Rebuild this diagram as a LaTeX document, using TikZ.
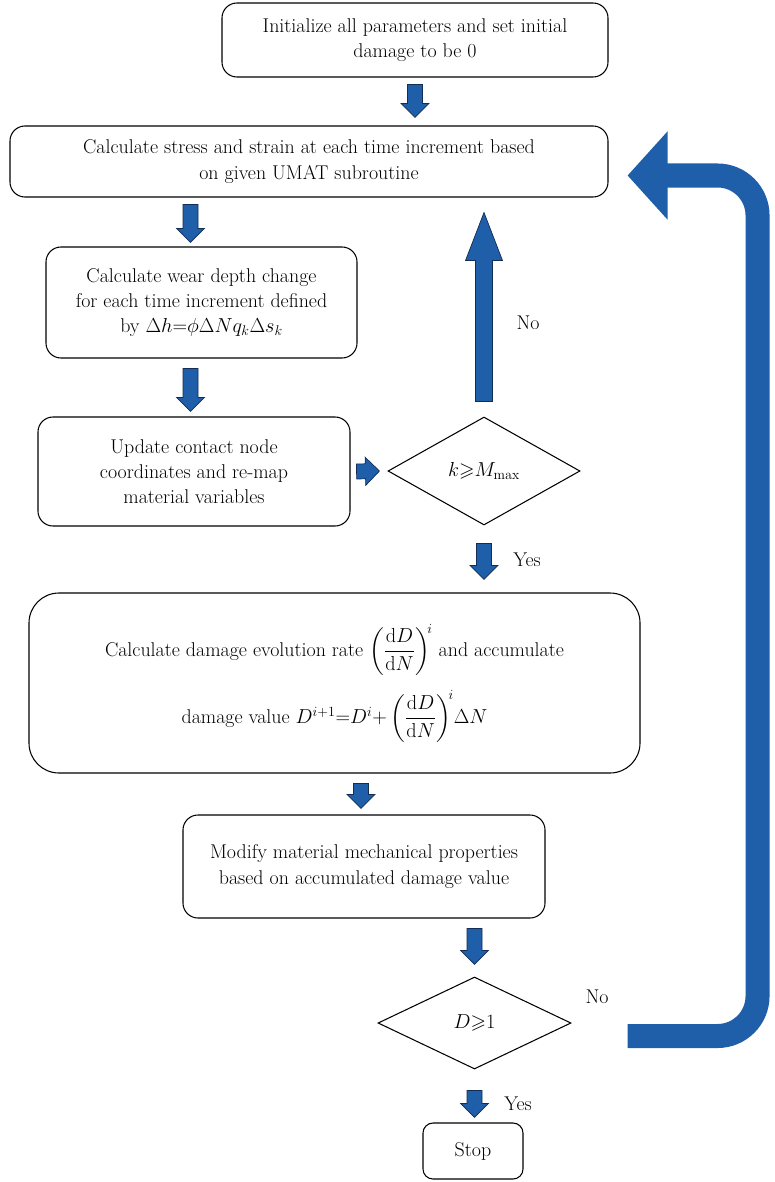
\documentclass[tikz,border=0pt]{standalone}
\usepackage{amsmath,amssymb}
\usepackage{tikz}
\usetikzlibrary{arrows.meta, calc, shapes.geometric, positioning}

\definecolor{flowblue}{RGB}{31,94,168}
\definecolor{edgeblue}{RGB}{20,45,85}

\tikzset{
  box/.style={draw, line width=0.9pt, rounded corners=0.45cm, align=center, inner sep=0pt},
  decision/.style={diamond, draw, line width=0.9pt, inner sep=0pt, align=center},
  arrowsize/.style n args={3}{/utils/exec={\def\shaftw{#1}\def\headw{#2}\def\headlen{#3}}},
  blockarrow/.style={draw=edgeblue, fill=flowblue, line width=0.6pt, to path={
      let \p1=(\tikztostart), \p2=(\tikztotarget),
          \n1={atan2(\y2-\y1,\x2-\x1)}, \n2={veclen(\x2-\x1,\y2-\y1)-\headlen} in
      ($(\p1)+(\n1+90:\shaftw)$) -- ($(\p1)+(\n1:\n2)+(\n1+90:\shaftw)$)
      -- ($(\p1)+(\n1:\n2)+(\n1+90:\headw)$) -- (\p2)
      -- ($(\p1)+(\n1:\n2)+(\n1-90:\headw)$) -- ($(\p1)+(\n1:\n2)+(\n1-90:\shaftw)$)
      -- ($(\p1)+(\n1-90:\shaftw)$) -- cycle}},
  smallarrow/.style={blockarrow, arrowsize={6.4pt}{12pt}{12pt}},
  bigarrow/.style={blockarrow, arrowsize={7.3pt}{15.8pt}{41pt}},
  curvearrow/.style={draw=flowblue, line width=0.72cm, rounded corners=1.2cm,
      -{Triangle[width=2.58cm, length=1.2cm]}},
}

\begin{document}
\begin{tikzpicture}[x=0.03cm, y=-0.03cm, font=\fontsize{17}{21.5}\selectfont]
\useasboundingbox (0,0) rectangle (774,1182);

\node[box, minimum width=11.58cm, minimum height=2.22cm] (init) at (415,40)
  {Initialize all parameters and set initial\\damage to be 0};
\node[box, minimum width=17.94cm, minimum height=2.13cm] (stress) at (309,161.5)
  {Calculate stress and strain at each time increment based\\on given UMAT subroutine};
\node[box, minimum width=9.33cm, minimum height=3.33cm] (wear) at (201.5,302.5)
  {Calculate wear depth change\\for each time increment defined\\by $\Delta h{=}\phi\Delta N q_k\Delta s_k$};
\node[box, minimum width=9.36cm, minimum height=3.27cm] (update) at (194,471.5)
  {Update contact node\\coordinates and re-map\\material variables};
\node[decision, minimum width=5.76cm, minimum height=3.24cm] (kdia) at (484,471)
  {$k{\geqslant}M_{\max}$};
\node[box, rounded corners=0.9cm, minimum width=18.33cm, minimum height=5.4cm] (damage) at (334.5,683)
  {Calculate damage evolution rate $\left(\dfrac{\mathrm{d}D}{\mathrm{d}N}\right)^{\!i}$ and accumulate\\[12pt]
   damage value $D^{i+1}{=}D^i{+}\left(\dfrac{\mathrm{d}D}{\mathrm{d}N}\right)^{\!i}\!\Delta N$};
\node[box, minimum width=10.86cm, minimum height=3.09cm] (modify) at (364,866.5)
  {Modify material mechanical properties\\based on accumulated damage value};
\node[decision, minimum width=5.79cm, minimum height=2.76cm] (ddia) at (474.5,1023)
  {$D{\geqslant}1$};
\node[box, rounded corners=0.3cm, minimum width=3cm, minimum height=1.68cm] (stop) at (473,1151) {Stop};

% labels
\node (kno) at (528,323) {No};
\node (kyes) at (527,560) {Yes};
\node (dno) at (597,997) {No};
\node (dyes) at (518,1104) {Yes};

% block arrows
\draw[smallarrow] ($(init.south)+(0,7)$) to ($(stress.north -| init.south)+(0,-8)$);
\draw[smallarrow] ($(wear.north)+(-11,-42)$) to ($(wear.north)+(-11,-4)$);
\draw[smallarrow] ($(wear.south)+(-11,10)$) to ($(update.north -| wear.south)+(-11,-5)$);
\draw[smallarrow] ($(update.east)+(6,0)$) to ($(kdia.west)+(-8,0)$);
\draw[bigarrow] ($(kdia.north)+(0,-15)$) to ($(stress.south -| kdia.north)+(0,15)$);
\draw[smallarrow] ($(kdia.south)+(0,18)$) to ($(damage.north -| kdia.south)+(0,-13)$);
\draw[smallarrow] ($(damage.south -| 361,0)+(0,10)$) to ($(modify.north -| 361,0)+(0,-6)$);
\draw[smallarrow] ($(modify.south -| ddia.north)+(0,10)$) to ($(ddia.north)+(0,-12)$);
\draw[smallarrow] ($(ddia.south)+(0,21)$) to ($(stop.north -| ddia.south)+(0,-5)$);
\draw[curvearrow] ($(ddia.east)+(56,13)$) -| ($(stress.east)+(149,14)$) -- ($(stress.east)+(19,14)$);
\end{tikzpicture}
\end{document}
